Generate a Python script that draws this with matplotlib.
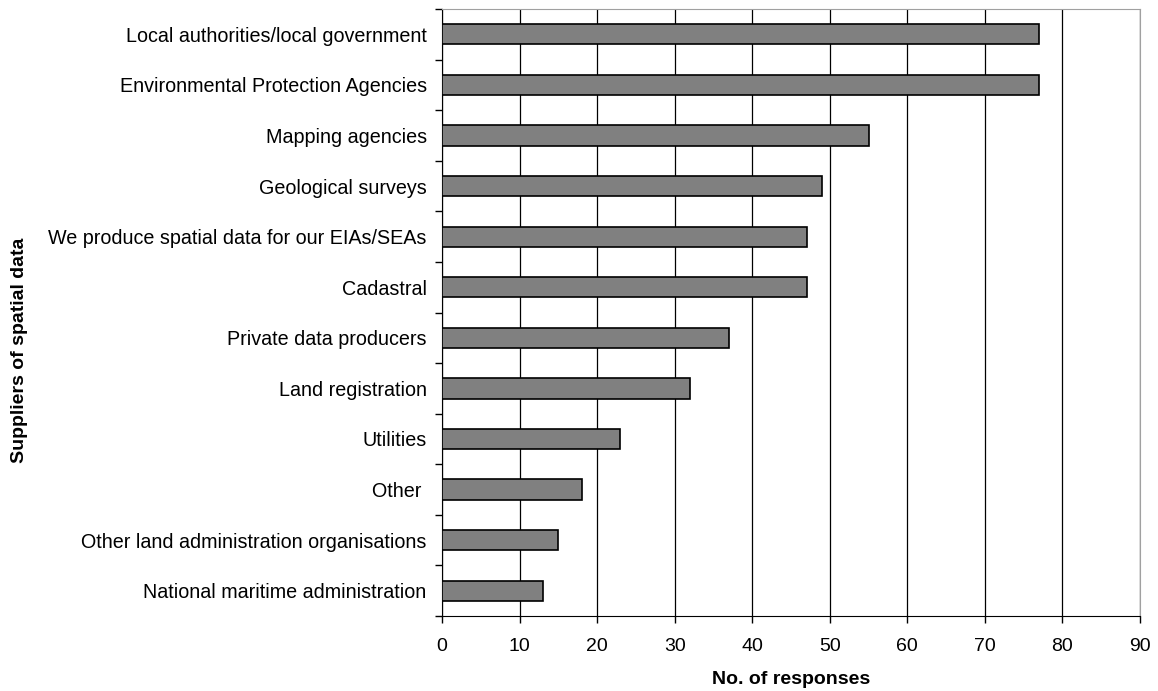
import matplotlib
matplotlib.use("Agg")
import matplotlib.pyplot as plt
import numpy as np

plt.rcParams['font.family'] = ['Liberation Sans', 'DejaVu Sans']

# suppliers, top to bottom as in the chart
suppliers = [
    "Local authorities/local government",
    "Environmental Protection Agencies",
    "Mapping agencies",
    "Geological surveys",
    "We produce spatial data for our EIAs/SEAs",
    "Cadastral",
    "Private data producers",
    "Land registration",
    "Utilities",
    "Other ",
    "Other land administration organisations",
    "National maritime administration",
]
responses = [77, 77, 55, 49, 47, 47, 37, 32, 23, 18, 15, 13]
xticks = np.arange(0, 91, 10)

fig = plt.figure(figsize=(11.58, 6.91), dpi=100)
ax = fig.add_axes([0.3817, 0.1085, 0.6028, 0.8785])

n = len(suppliers)
ypos = np.arange(n)[::-1]
ax.barh(ypos, responses, height=0.4, color="#808080", edgecolor="black",
        linewidth=1.2, zorder=3)

ax.set_xlim(0, 90)
ax.set_ylim(-0.5, n - 0.5)
ax.set_xticks(xticks)
ax.set_xticklabels([str(t) for t in xticks], fontsize=14)
ax.tick_params(axis="x", direction="out", length=5, width=1, pad=10.5)

# y ticks sit on the boundaries between categories, labels centred on bars
ax.set_yticks(np.arange(-0.5, n, 1.0))
ax.set_yticklabels([])
ax.set_yticks(ypos, minor=True)
ax.set_yticklabels(suppliers, minor=True, fontsize=14.2)
ax.tick_params(axis="y", which="major", direction="out", length=5, width=1)
ax.tick_params(axis="y", which="minor", length=0, pad=11)

ax.grid(axis="x", color="black", linewidth=0.9, zorder=0)
ax.set_axisbelow(True)

for side in ["top", "right"]:
    ax.spines[side].set_color("#a0a0a0")
for side in ["left", "bottom"]:
    ax.spines[side].set_color("black")

ax.set_xlabel("No. of responses", fontsize=14, fontweight="bold", labelpad=12)
fig.text(0.0165, 0.493, "Suppliers of spatial data", rotation=90, fontsize=14,
         fontweight="bold", ha="center", va="center")

fig.savefig("out.png", dpi=100)
